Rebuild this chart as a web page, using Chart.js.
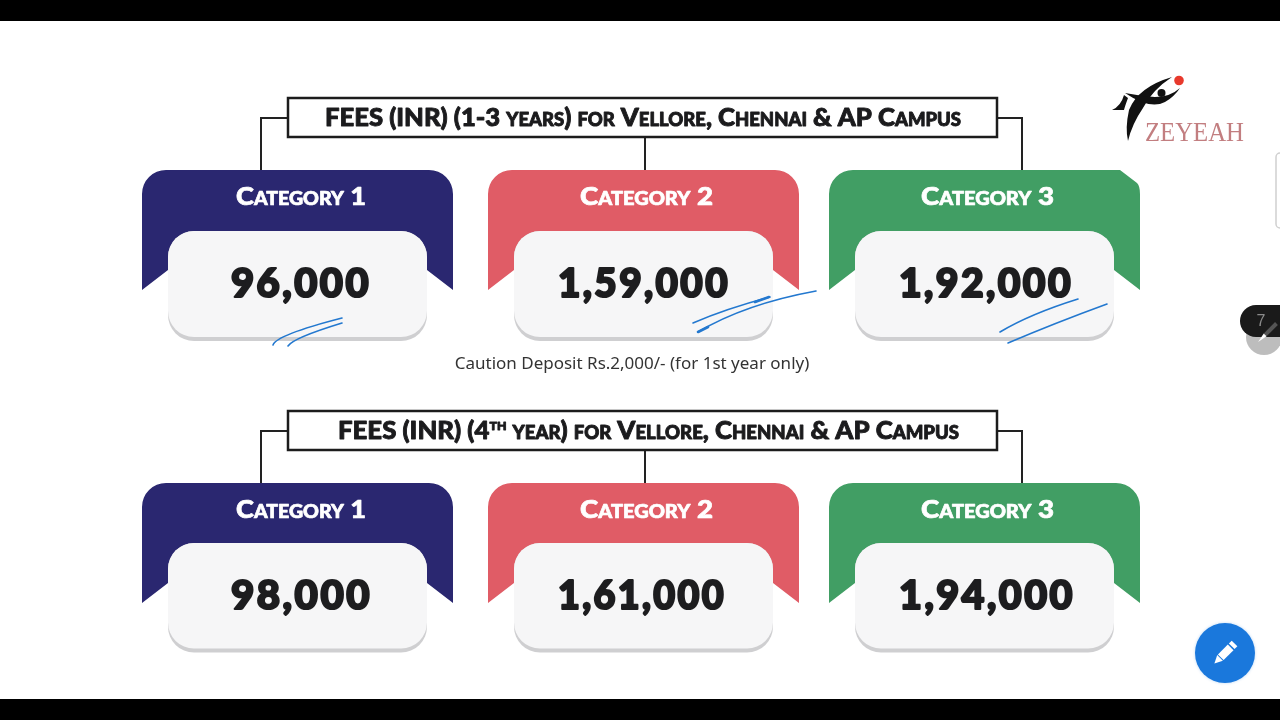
<!DOCTYPE html>
<html><head><meta charset="utf-8">
<script src="https://cdn.jsdelivr.net/npm/chart.js@4"></script>
<style>html,body{margin:0;padding:0;background:#fff}canvas{display:block}</style>
</head><body><canvas id="c" width="1280" height="720"></canvas>
<script>
const categories = ['Category 1', 'Category 2', 'Category 3'];
const fees13Years = [96000, 159000, 192000];
const fees4thYear = [98000, 161000, 194000];
const periodNames = ['1-3 years', '4th year'];
const note = 'Caution Deposit Rs.2,000/- (for 1st year only)';
const brand = 'ZEYEAH';
const colors = ['#2a2770', '#e05c66', '#419e64'];

const INK = '#1d1d1f';
const colNudge = [0, 2.5, 0];
const labelSpan = [[236, 366], [580, 713], [921, 1054]];
const valueSpan = [[[231, 371], [558, 730], [899, 1073]], [[231, 372], [558, 726], [899, 1075]]];
const rowGeom = [{cardTop: 61, h: 171, box: 98, line: 118, boxH: 38, val: 114}, {cardTop: 60, h: 169.5, box: 411, line: 431, boxH: 38, val: 113}];

function rr(ctx, x, y, w, h, r) { ctx.beginPath(); ctx.roundRect(x, y, w, h, r); }

function banner(ctx, cx, top, color, notch) {
  const L = cx - 155.5, R = cx + 155.5, W = 129.5;
  ctx.fillStyle = color;
  ctx.beginPath();
  ctx.moveTo(L, top + 120);
  ctx.lineTo(L, top + 24);
  ctx.arcTo(L, top, L + 24, top, 24);
  if (notch) {
    ctx.lineTo(R - 20, top);
    ctx.lineTo(R - 3, top + 13);
    ctx.quadraticCurveTo(R, top + 16, R, top + 24);
  } else {
    ctx.lineTo(R - 24, top);
    ctx.arcTo(R, top, R, top + 24, 24);
  }
  ctx.lineTo(R, top + 120);
  ctx.lineTo(cx + W, top + 100);
  ctx.lineTo(cx - W, top + 100);
  ctx.closePath();
  ctx.fill();
}

function card(ctx, cx, top, g) {
  const x = cx - 129.5, w = 259, y = top + g.cardTop, h = g.h - g.cardTop;
  ctx.fillStyle = '#cfcfd1';
  rr(ctx, x, y, w, h, 26); ctx.fill();
  ctx.fillStyle = '#f6f6f7';
  rr(ctx, x, y, w, h - 4, 26); ctx.fill();
}

function connectors(ctx, g, top) {
  ctx.strokeStyle = '#222'; ctx.lineWidth = 2;
  ctx.beginPath();
  ctx.moveTo(288, g.line); ctx.lineTo(261, g.line); ctx.lineTo(261, top);
  ctx.moveTo(997, g.line); ctx.lineTo(1022, g.line); ctx.lineTo(1022, top);
  ctx.moveTo(645, g.box + g.boxH); ctx.lineTo(645, top);
  ctx.stroke();
  ctx.fillStyle = '#fff'; ctx.strokeStyle = '#1c1c1c'; ctx.lineWidth = 2.5;
  ctx.beginPath(); ctx.rect(288, g.box, 709, g.boxH + 1); ctx.fill(); ctx.stroke();
}

// Draw a run of text segments stretched to span x0..x1, thickened by a same-colour stroke.
function segText(ctx, segs, x0, x1, y, caps, weight, spacing) {
  ctx.save();
  ctx.textAlign = 'left';
  ctx.textBaseline = 'middle';
  ctx.letterSpacing = spacing || '0px';
  let total = 0;
  segs.forEach(s => { ctx.font = s.font; ctx.fontVariantCaps = caps; total += ctx.measureText(s.t).width; });
  ctx.translate(x0, y); ctx.scale((x1 - x0) / total, 1);
  ctx.strokeStyle = ctx.fillStyle; ctx.lineWidth = weight; ctx.lineJoin = 'round';
  let p = 0;
  segs.forEach(s => {
    ctx.font = s.font; ctx.fontVariantCaps = caps;
    ctx.fillText(s.t, p, s.dy || 0);
    if (weight) ctx.strokeText(s.t, p, s.dy || 0);
    p += ctx.measureText(s.t).width;
  });
  ctx.restore();
}

function strokesPen(ctx) {
  ctx.strokeStyle = '#2378cf'; ctx.lineWidth = 1.6; ctx.lineCap = 'round';
  const q = [
    [273,345,276,335,342,318],[288,346,293,338,342,323],
    [693,323,725,309,770,297],[698,332,745,304,816,291],
    [1000,332,1030,314,1078,299],[1008,343,1055,323,1107,304]
  ];
  q.forEach(a => { ctx.beginPath(); ctx.moveTo(a[0],a[1]); ctx.quadraticCurveTo(a[2],a[3],a[4],a[5]); ctx.stroke(); });
  ctx.lineWidth = 2.6;
  ctx.beginPath(); ctx.moveTo(755,302); ctx.lineTo(769,297); ctx.moveTo(698,332); ctx.lineTo(708,327); ctx.stroke();
}

function logo(ctx) {
  ctx.fillStyle = '#111';
  ctx.beginPath();
  ctx.moveTo(1172,77); ctx.quadraticCurveTo(1138,87,1129,110);
  ctx.quadraticCurveTo(1125,128,1128,141);
  ctx.quadraticCurveTo(1132,124,1143,108);
  ctx.quadraticCurveTo(1152,90,1172,77); ctx.fill();
  ctx.beginPath();
  ctx.moveTo(1125,93); ctx.quadraticCurveTo(1150,110,1165,102);
  ctx.quadraticCurveTo(1174,97,1180,88);
  ctx.quadraticCurveTo(1170,97,1155,97);
  ctx.quadraticCurveTo(1140,96,1125,93); ctx.fill();
  ctx.beginPath();
  ctx.moveTo(1112,110); ctx.quadraticCurveTo(1121,106,1124,95);
  ctx.lineTo(1128,98); ctx.quadraticCurveTo(1125,106,1124,110); ctx.closePath(); ctx.fill();
  ctx.beginPath(); ctx.arc(1161.5,93,4,0,7); ctx.fill();
  ctx.fillStyle = '#e8392c';
  ctx.beginPath(); ctx.arc(1179,80.5,4.8,0,7); ctx.fill();
  ctx.fillStyle = '#c27e80';
  ctx.font = '27px "Liberation Serif"';
  ctx.textAlign = 'left'; ctx.textBaseline = 'alphabetic';
  ctx.fillText(brand, 1145, 141, 99);
}

function sideUi(ctx) {
  ctx.strokeStyle = '#d0d0d0'; ctx.lineWidth = 1.5;
  rr(ctx, 1276, 153, 14, 75, 4); ctx.stroke();
  ctx.fillStyle = '#bdbdbd';
  ctx.beginPath(); ctx.arc(1264, 337, 18, 0, 7); ctx.fill();
  ctx.fillStyle = '#1a1a1a';
  rr(ctx, 1240, 305, 60, 32, 16); ctx.fill();
  ctx.fillStyle = '#8a8a8a';
  ctx.font = '16px "Liberation Sans"';
  ctx.textAlign = 'center'; ctx.textBaseline = 'middle';
  ctx.fillText('7', 1261, 322);
  ctx.save();
  ctx.translate(1268, 332); ctx.rotate(-Math.PI / 4);
  ctx.fillStyle = '#555'; ctx.fillRect(-4, -2, 16, 4);
  ctx.fillStyle = '#fff';
  ctx.beginPath(); ctx.moveTo(-4,-2); ctx.lineTo(-14,0); ctx.lineTo(-4,2); ctx.fill();
  ctx.restore();
  ctx.fillStyle = '#1a78dc';
  ctx.shadowColor = 'rgba(26,120,220,.3)'; ctx.shadowBlur = 3;
  ctx.beginPath(); ctx.arc(1225, 653, 30, 0, 7); ctx.fill();
  ctx.shadowBlur = 0;
  ctx.save();
  ctx.translate(1225, 653); ctx.rotate(-Math.PI / 4);
  ctx.fillStyle = '#fff';
  ctx.fillRect(-6, -4, 14, 8);
  ctx.fillRect(9.5, -4, 4, 8);
  ctx.beginPath(); ctx.moveTo(-7,-4); ctx.lineTo(-15,0); ctx.lineTo(-7,4); ctx.fill();
  ctx.restore();
}

const infographic = {
  id: 'infographic',
  beforeDatasetsDraw(chart) {
    const ctx = chart.ctx;
    ctx.save();
    ctx.fillStyle = '#fff'; ctx.fillRect(0, 0, 1280, 720);
    ctx.fillStyle = '#000';
    ctx.fillRect(0, 0, 1280, 21); ctx.fillRect(0, 699, 1280, 21);

    chart.data.datasets.forEach((ds, r) => {
      const g = rowGeom[r];
      const pts = chart.getDatasetMeta(r).data;
      connectors(ctx, g, pts[0].y);
      ctx.fillStyle = '#1b1b1d';
      const tail = ' for Vellore, Chennai & AP Campus';
      if (r === 0) {
        segText(ctx, [{t: 'FEES (INR) (' + periodNames[0] + ')' + tail, font: '900 25px Lato'}], 325, 961, g.box + 20, 'small-caps', 0.9);
      } else {
        const n = periodNames[1][0], suf = periodNames[1].slice(1, 3), rest = periodNames[1].slice(3);
        segText(ctx, [
          {t: 'FEES (INR) (' + n, font: '900 25px Lato'},
          {t: suf, font: '900 17px Lato', dy: -6},
          {t: rest + ')' + tail, font: '900 25px Lato'}
        ], 338, 959, g.box + 20, 'small-caps', 0.9);
      }
      pts.forEach((p, i) => {
        const cx = p.x + colNudge[i];
        banner(ctx, cx, p.y, colors[i], r === 0 && i === 2);
        card(ctx, cx, p.y, g);
        ctx.fillStyle = '#fff';
        segText(ctx, [{t: ds.data[i].label, font: '900 25px Lato'}], labelSpan[i][0], labelSpan[i][1], p.y + 26.5, 'small-caps', 0.7);
        ctx.fillStyle = INK;
        const v = valueSpan[r][i];
        segText(ctx, [{t: ds.data[i].fee.toLocaleString('en-IN'), font: '900 40px Lato'}], v[0], v[1], p.y + g.val, 'normal', 2.2, '2.5px');
      });
    });

    ctx.fontVariantCaps = 'normal';
    ctx.fillStyle = '#333';
    ctx.font = '17px "Noto Sans"';
    ctx.textAlign = 'center'; ctx.textBaseline = 'middle';
    ctx.fillText(note, 632, 364.5, 357);

    strokesPen(ctx);
    logo(ctx);
    sideUi(ctx);
    ctx.restore();
  }
};

const rowData = (vals, r) => categories.map((c, i) => ({x: i, y: r, fee: vals[i], label: c}));

new Chart(document.getElementById('c'), {
  type: 'scatter',
  data: {datasets: [
    {label: periodNames[0], data: rowData(fees13Years, 0), pointRadius: 0},
    {label: periodNames[1], data: rowData(fees4thYear, 1), pointRadius: 0}
  ]},
  plugins: [infographic],
  options: {
    responsive: false, animation: false, devicePixelRatio: 1,
    layout: {padding: 0},
    plugins: {legend: {display: false}, tooltip: {enabled: false}},
    scales: {
      x: {type: 'linear', display: false, min: -297.5 / 343.5, max: (1280 - 297.5) / 343.5},
      y: {type: 'linear', display: false, reverse: true, min: -170 / 313, max: (720 - 170) / 313}
    }
  }
});
</script></body></html>
